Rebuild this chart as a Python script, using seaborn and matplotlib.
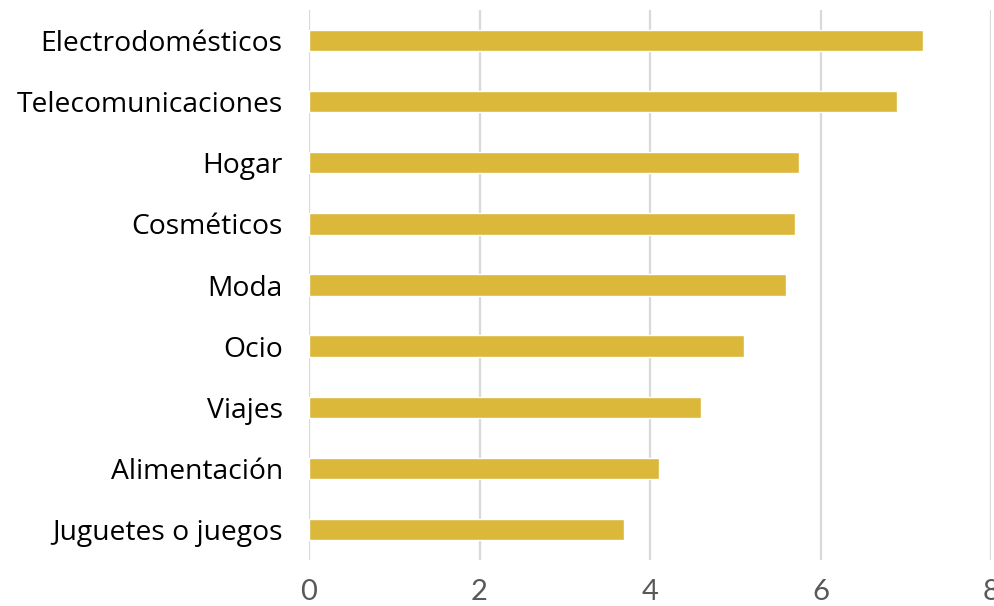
import matplotlib
matplotlib.use("Agg")
import matplotlib.pyplot as plt
import seaborn as sns
import pandas as pd

categories = ["Electrodomésticos", "Telecomunicaciones", "Hogar", "Cosméticos",
              "Moda", "Ocio", "Viajes", "Alimentación", "Juguetes o juegos"]
values = [7.2, 6.9, 5.75, 5.7, 5.6, 5.1, 4.6, 4.1, 3.7]
xticks = [0, 2, 4, 6, 8]

sns.set_style("white")
plt.rcParams['font.family'] = ['Open Sans', 'DejaVu Sans']

df = pd.DataFrame({"cat": categories, "val": values})

fig = plt.figure(figsize=(9.94, 6.06), dpi=100)
ax = fig.add_axes([0.3109, 0.0759, 0.997 - 0.3109, 0.9835 - 0.0759])
sns.barplot(data=df, y="cat", x="val", orient="h", color="#DBB73A",
            saturation=1, width=0.35, ax=ax, zorder=3)
ax.set_xlim(0, 8)
ax.set_ylim(8.5, -0.5)
ax.set_xticks(xticks)
ax.set_xticklabels([str(t) for t in xticks], family=['Lato', 'DejaVu Sans'])
ax.grid(axis="x", color="#D9D9D9", linewidth=1.6, zorder=0)
ax.grid(axis="y", visible=False)
ax.set_axisbelow(True)
for s in ax.spines.values():
    s.set_visible(False)
ax.set_xlabel("")
ax.set_ylabel("")
ax.tick_params(axis="y", length=0, pad=19, labelsize=20.3, labelcolor="#000000")
ax.tick_params(axis="x", length=0, pad=14, labelsize=21, labelcolor="#595959")
fig.savefig("out.png", dpi=100)
